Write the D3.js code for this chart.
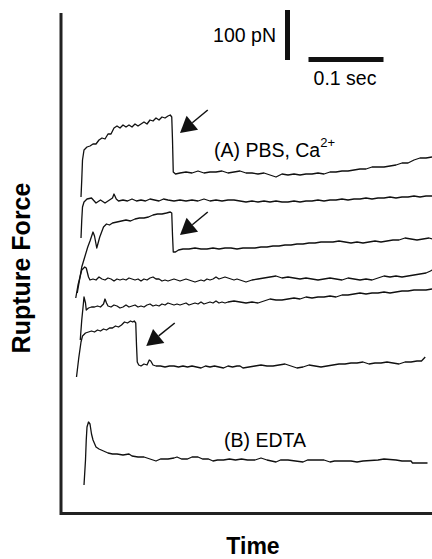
<!DOCTYPE html>
<html>
<head>
<meta charset="utf-8">
<script src="https://cdn.jsdelivr.net/npm/d3@7"></script>
<style>
  body { margin: 0; background: #fff; }
  svg { display: block; }
  text { font-family: "Liberation Sans", Arial, Helvetica, sans-serif; fill: #000; }
</style>
</head>
<body>
<svg id="chart"></svg>
<script>
// force traces: [time (ms), force (pN, incl. stacking offset)]
var traceA1 = [[24,632],[25,666],[26,706],[28,726],[32,732],[36,734],[40,738],[44,738],[48,746],[52,750],[56,748],[60,758],[64,758],[68,770],[72,774],[76,770],[80,776],[84,772],[88,776],[92,772],[96,778],[100,774],[104,778],[108,782],[112,778],[116,786],[120,784],[124,790],[128,786],[132,792],[136,790],[140,794],[143,796],[145,792],[146,746],[147,682],[150,678],[156,680],[164,682],[172,680],[180,684],[188,680],[196,682],[204,682],[212,684],[220,680],[228,682],[236,684],[244,680],[252,680],[260,678],[268,680],[276,676],[284,672],[292,678],[300,676],[308,678],[316,676],[324,678],[332,678],[340,680],[348,678],[356,682],[364,682],[372,684],[380,684],[388,686],[396,688],[404,688],[412,692],[420,692],[428,692],[436,694],[444,696],[452,700],[460,700],[468,706],[476,710],[484,710],[492,712]];

var traceA2 = [[24,550],[25,586],[26,612],[28,622],[32,628],[38,630],[44,620],[50,626],[56,620],[62,626],[66,630],[68,638],[71,628],[74,624],[80,626],[86,624],[92,628],[98,624],[104,626],[110,624],[116,628],[122,626],[128,624],[134,628],[140,626],[148,624],[156,626],[164,624],[172,626],[180,624],[188,628],[196,624],[204,626],[212,624],[220,626],[228,626],[236,624],[244,622],[252,624],[260,622],[268,624],[276,622],[284,624],[292,622],[300,622],[308,624],[316,622],[324,624],[332,624],[340,626],[348,624],[356,626],[364,626],[372,628],[380,626],[388,628],[396,628],[404,630],[412,628],[420,630],[428,630],[436,632],[444,630],[452,632],[460,632],[468,634],[476,632],[484,634],[492,634]];

var traceA3 = [[19,440],[22,466],[25,492],[29,512],[33,532],[36,544],[40,562],[42,554],[45,530],[49,552],[54,572],[58,578],[62,576],[66,580],[72,582],[78,584],[84,586],[90,584],[96,588],[102,590],[108,590],[114,592],[120,596],[126,598],[132,598],[138,600],[143,602],[145,600],[146,556],[147,522],[150,522],[154,526],[160,528],[168,528],[176,530],[184,528],[192,528],[200,530],[208,528],[216,530],[224,530],[232,528],[240,530],[248,530],[256,530],[264,532],[272,532],[280,534],[288,534],[296,536],[304,536],[312,538],[320,538],[328,540],[336,540],[344,542],[352,542],[360,542],[368,544],[376,542],[384,540],[392,542],[400,540],[408,542],[416,544],[424,542],[432,544],[440,546],[448,546],[456,550],[464,548],[472,546],[480,548],[488,550],[492,548]];

var traceA4 = [[17,430],[20,456],[25,486],[29,492],[31,490],[34,472],[36,466],[40,468],[44,466],[48,472],[52,468],[56,466],[60,470],[64,468],[68,464],[72,468],[76,466],[80,468],[84,466],[88,470],[92,468],[96,466],[100,468],[104,464],[108,468],[112,466],[116,470],[120,472],[124,468],[128,468],[132,464],[136,466],[140,464],[144,466],[148,468],[152,466],[156,464],[160,466],[164,468],[168,466],[172,464],[176,462],[180,464],[184,466],[188,464],[192,468],[196,466],[200,468],[204,472],[208,468],[212,470],[216,472],[220,470],[224,468],[228,466],[232,468],[236,466],[240,464],[244,462],[248,464],[252,466],[260,468],[268,470],[276,472],[284,474],[292,470],[300,472],[308,470],[316,468],[324,470],[332,468],[340,466],[348,468],[356,470],[364,468],[372,466],[380,470],[388,468],[396,466],[404,468],[412,466],[420,470],[428,474],[436,472],[444,474],[452,472],[460,474],[468,476],[476,478],[484,480],[490,484],[492,486]];

var traceA5 = [[23,346],[25,386],[27,416],[28,432],[30,420],[31,406],[34,410],[38,412],[42,412],[46,414],[50,412],[54,418],[56,428],[58,420],[60,414],[64,412],[68,416],[72,414],[76,410],[80,412],[84,416],[88,412],[92,414],[96,416],[100,412],[104,414],[108,412],[112,416],[116,418],[120,414],[124,416],[128,414],[132,418],[136,416],[140,420],[144,418],[148,416],[152,418],[156,416],[160,418],[164,420],[168,416],[172,418],[176,420],[180,418],[184,422],[188,418],[192,420],[196,422],[200,420],[204,424],[208,420],[212,422],[216,420],[220,422],[228,424],[236,422],[244,420],[252,422],[260,420],[268,424],[276,428],[284,426],[292,426],[300,428],[308,430],[316,428],[324,432],[332,430],[340,432],[348,432],[356,434],[364,432],[372,436],[380,436],[388,438],[396,440],[404,438],[412,440],[420,440],[428,442],[436,440],[444,442],[452,444],[460,444],[468,446],[476,446],[484,446],[492,448]];

var traceA6 = [[18,272],[21,310],[24,342],[26,354],[30,360],[34,362],[38,364],[42,362],[46,366],[50,364],[54,368],[58,366],[62,370],[66,370],[70,374],[74,372],[78,376],[82,382],[86,380],[90,384],[93,382],[95,384],[97,380],[98,336],[99,302],[101,296],[104,294],[108,298],[112,296],[115,306],[117,304],[120,296],[124,294],[130,294],[136,292],[142,294],[148,294],[154,292],[160,294],[166,292],[172,294],[178,292],[184,290],[190,294],[196,292],[202,294],[208,292],[214,290],[220,294],[226,292],[232,294],[236,294],[240,290],[248,292],[256,294],[264,296],[272,294],[280,294],[288,296],[296,298],[304,294],[312,290],[320,292],[328,296],[336,294],[344,292],[352,294],[360,296],[368,298],[376,298],[384,300],[392,300],[400,302],[404,300],[408,298],[416,300],[424,300],[432,302],[440,300],[448,298],[456,302],[464,302],[472,304],[478,304],[483,312]];

var traceB = [[28,56],[30,106],[31,146],[32,172],[34,182],[36,178],[38,158],[40,146],[44,132],[48,128],[54,124],[60,120],[66,118],[72,118],[80,116],[88,118],[92,114],[100,112],[108,112],[116,108],[124,104],[130,108],[140,108],[148,110],[152,112],[158,108],[166,108],[172,112],[180,112],[186,108],[194,108],[200,104],[206,106],[214,106],[222,108],[230,106],[238,108],[246,106],[256,106],[264,110],[272,106],[284,102],[290,106],[300,106],[320,102],[326,106],[348,106],[356,102],[362,104],[384,104],[392,102],[400,104],[420,106],[428,108],[444,106],[452,104],[464,104],[466,100],[486,100]];

var traces = [traceA1, traceA2, traceA3, traceA4, traceA5, traceA6, traceB];

// rupture arrows: [tail ms, tail pN, tip ms, tip pN]
var arrows = [[193,806,156,760],[193,602,156,556],[149,380,111,334]];

// scale bar sizes
var barForce = 100;   // pN
var barTime = 100;    // ms
var barForceLabel = "100 pN";
var barTimeLabel = "0.1 sec";

var labelA = "(A) PBS, Ca";
var labelASup = "2+";
var labelB = "(B) EDTA";
var xTitle = "Time";
var yTitle = "Rupture Force";

var width = 432, height = 559;

var svg = d3.select("#chart")
    .attr("width", width)
    .attr("height", height);

var x = d3.scaleLinear().domain([0, 492]).range([63, 432]);
var y = d3.scaleLinear().domain([0, 998]).range([513, 14]);

// axes: plain lines, no ticks
var xAxis = d3.axisBottom(x).ticks(0).tickSizeOuter(0);
var yAxis = d3.axisLeft(y).ticks(0).tickSizeOuter(0);

svg.append("g")
    .attr("transform", "translate(0,513)")
    .call(xAxis);
svg.append("g")
    .attr("transform", "translate(60.5,0)")
    .call(yAxis);

svg.selectAll(".domain")
    .attr("stroke", "#222")
    .attr("stroke-width", 3)
    .attr("stroke-linecap", "square");

var line = d3.line()
    .x(function(d){ return x(d[0]); })
    .y(function(d){ return y(d[1]); });

svg.selectAll("path.trace")
    .data(traces)
    .enter()
    .append("path")
    .attr("class", "trace")
    .attr("d", line)
    .attr("fill", "none")
    .attr("stroke", "#111")
    .attr("stroke-width", 1.3)
    .attr("stroke-linejoin", "round");

// arrows
var headLen = 16, headHalf = 9;
arrows.forEach(function(a){
    var x0 = x(a[0]), y0 = y(a[1]), x1 = x(a[2]), y1 = y(a[3]);
    var ang = Math.atan2(y1 - y0, x1 - x0);
    var bx = x1 - headLen * Math.cos(ang), by = y1 - headLen * Math.sin(ang);
    svg.append("line")
        .attr("x1", x0).attr("y1", y0)
        .attr("x2", bx).attr("y2", by)
        .attr("stroke", "#111")
        .attr("stroke-width", 1.5);
    var px = -Math.sin(ang) * headHalf, py = Math.cos(ang) * headHalf;
    svg.append("polygon")
        .attr("points", [[x1, y1], [bx + px, by + py], [bx - px, by - py]].join(" "))
        .attr("fill", "#111");
});

// scale bars
var barX = 287.5, barTop = 10;
svg.append("line")
    .attr("x1", barX).attr("x2", barX)
    .attr("y1", barTop).attr("y2", barTop + (y(0) - y(barForce)))
    .attr("stroke", "#111").attr("stroke-width", 5);
var hbX = 308.5, hbY = 59.5;
svg.append("line")
    .attr("x1", hbX).attr("x2", hbX + (x(barTime) - x(0)))
    .attr("y1", hbY).attr("y2", hbY)
    .attr("stroke", "#111").attr("stroke-width", 5);

svg.append("text")
    .attr("x", 276).attr("y", 42)
    .attr("text-anchor", "end")
    .attr("font-size", 19.5)
    .text(barForceLabel);
svg.append("text")
    .attr("x", 345).attr("y", 85)
    .attr("text-anchor", "middle")
    .attr("font-size", 19.5)
    .text(barTimeLabel);

// condition labels
var tA = svg.append("text")
    .attr("x", 214).attr("y", 157)
    .attr("font-size", 19.5)
    .text(labelA);
tA.append("tspan")
    .attr("dy", -10)
    .attr("font-size", 13)
    .text(labelASup);

svg.append("text")
    .attr("x", 224).attr("y", 447)
    .attr("font-size", 19.5)
    .text(labelB);

// axis titles
svg.append("text")
    .attr("x", 253).attr("y", 554)
    .attr("text-anchor", "middle")
    .attr("font-size", 23)
    .attr("font-weight", "bold")
    .text(xTitle);

svg.append("text")
    .attr("transform", "translate(30,268) rotate(-90)")
    .attr("text-anchor", "middle")
    .attr("font-size", 25)
    .attr("font-weight", "bold")
    .text(yTitle);
</script>
</body>
</html>
